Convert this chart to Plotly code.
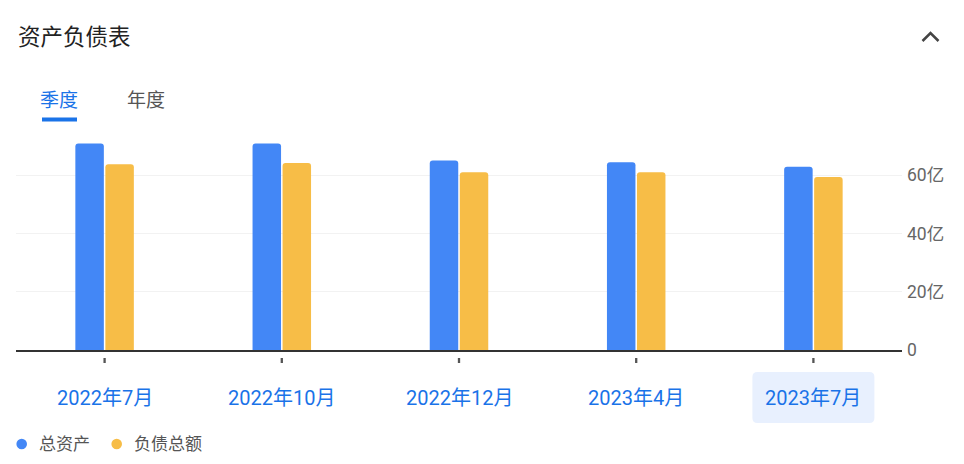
import plotly.graph_objects as go

# ---- data ----
categories = ["2022年7月", "2022年10月", "2022年12月", "2023年4月", "2023年7月"]
total_assets = [70.9, 70.9, 65.1, 64.5, 62.9]        # 总资产 (亿)
total_liabilities = [63.8, 64.2, 61.0, 61.0, 59.4]   # 负债总额 (亿)
series_names = ["总资产", "负债总额"]
y_tickvals = [0, 20, 40, 60]
y_ticktext = ["0", "20亿", "40亿", "60亿"]
title_text = "资产负债表"
tab_labels = ["季度", "年度"]
selected_category = "2023年7月"

# ---- layout constants (page pixels; page body has an 8px margin) ----
OFF = 8
W, H = 948, 448
ML, MR, MT, MB = 8, 54, 109, 106
PW, PH = W - ML - MR, H - MT - MB


def px_x(p):
    return (p - OFF - ML) / PW


def px_y(p):
    return (H - MB - (p - OFF)) / PH


def cat_x(c):
    return (categories.index(c) + 0.5) / len(categories)


BLUE = "#4387f6"
YELLOW = "#f7bd47"
ACCENT = "#1a73e8"
FONT = "Roboto, 'Noto Sans CJK SC', sans-serif"

fig = go.Figure()
fig.add_trace(go.Bar(x=categories, y=total_assets, name=series_names[0],
                     marker=dict(color=BLUE, line=dict(width=0)), showlegend=False,
                     hoverinfo="skip"))
fig.add_trace(go.Bar(x=categories, y=total_liabilities, name=series_names[1],
                     marker=dict(color=YELLOW, line=dict(width=0)), showlegend=False,
                     hoverinfo="skip"))

shapes = []
annotations = []

# tick marks below axis
for c in categories:
    shapes.append(dict(type="line", xref="paper", yref="paper", x0=cat_x(c), x1=cat_x(c),
                       ysizemode="pixel", yanchor=0, y0=-8, y1=-13,
                       line=dict(color="#555555", width=2.3)))

# highlight box for selected category
shapes.append(dict(type="path", xref="paper", yref="paper", xsizemode="pixel", ysizemode="pixel",
                   xanchor=cat_x(selected_category), yanchor=0, layer="below",
                   path="M -56,-22 L 56,-22 Q 61,-22 61,-27 L 61,-68 Q 61,-73 56,-73 "
                        "L -56,-73 Q -61,-73 -61,-68 L -61,-27 Q -61,-22 -56,-22 Z",
                   fillcolor="#e8f0fe", line=dict(width=0)))

# category labels
for c in categories:
    annotations.append(dict(x=c, y=0, xref="x", yref="y", text=c, showarrow=False,
                            yshift=-48, xanchor="center", yanchor="middle",
                            font=dict(family=FONT, size=20, color=ACCENT)))

# title
annotations.append(dict(x=px_x(16), y=px_y(37), xref="paper", yref="paper", text=title_text,
                        showarrow=False, xanchor="left", yanchor="middle",
                        font=dict(family=FONT, size=22.5, color="#222222")))
# tabs
annotations.append(dict(x=px_x(59), y=px_y(100), xref="paper", yref="paper", text=tab_labels[0],
                        showarrow=False, xanchor="center", yanchor="middle",
                        font=dict(family=FONT, size=19, color=ACCENT)))
annotations.append(dict(x=px_x(145.5), y=px_y(100), xref="paper", yref="paper", text=tab_labels[1],
                        showarrow=False, xanchor="center", yanchor="middle",
                        font=dict(family=FONT, size=19, color="#555555")))
shapes.append(dict(type="path", xref="paper", yref="paper",
                   path=f"M {px_x(42)},{px_y(117.5)} L {px_x(77)},{px_y(117.5)} "
                        f"L {px_x(77)},{px_y(121.5)} L {px_x(42)},{px_y(121.5)} Z",
                   fillcolor=ACCENT, line=dict(width=0)))
# chevron
shapes.append(dict(type="path", xref="paper", yref="paper",
                   path=f"M {px_x(922.5)},{px_y(41)} L {px_x(930.5)},{px_y(33)} L {px_x(938.5)},{px_y(41)}",
                   line=dict(color="#444444", width=2.5)))

# legend (manual, circular markers)
legend_items = [(series_names[0], BLUE, 21.7, 36.5), (series_names[1], YELLOW, 116.7, 131.5)]
for name, col, cx, tx in legend_items:
    r = 5.3
    shapes.append(dict(type="circle", xref="paper", yref="paper",
                       x0=px_x(cx - r), x1=px_x(cx + r), y0=px_y(444 + r), y1=px_y(444 - r),
                       fillcolor=col, line=dict(width=0)))
    annotations.append(dict(x=px_x(tx), y=px_y(444), xref="paper", yref="paper", text=name,
                            showarrow=False, xanchor="left", yanchor="middle",
                            font=dict(family=FONT, size=17, color="#555555")))

fig.update_layout(
    width=W, height=H,
    margin=dict(l=ML, r=MR, t=MT, b=MB, pad=0),
    paper_bgcolor="white", plot_bgcolor="white",
    barmode="group", bargap=0.6614, bargroupgap=0.05, barcornerradius=3,
    shapes=shapes, annotations=annotations,
    showlegend=False,
    font=dict(family=FONT),
    xaxis=dict(type="category", showgrid=False, showticklabels=False, ticks="",
               showline=True, linecolor="#333333", linewidth=1.5, zeroline=False,
               fixedrange=True),
    yaxis=dict(side="right", range=[0, 80], tickvals=y_tickvals, ticktext=y_ticktext,
               showgrid=True, gridcolor="#f2f2f2", gridwidth=1, zeroline=False,
               showline=False, ticks="", ticklabelstandoff=4,
               tickfont=dict(family=FONT, size=17.5, color="#666666"), fixedrange=True),
)

fig.write_html("out.html", config={"displayModeBar": False})
